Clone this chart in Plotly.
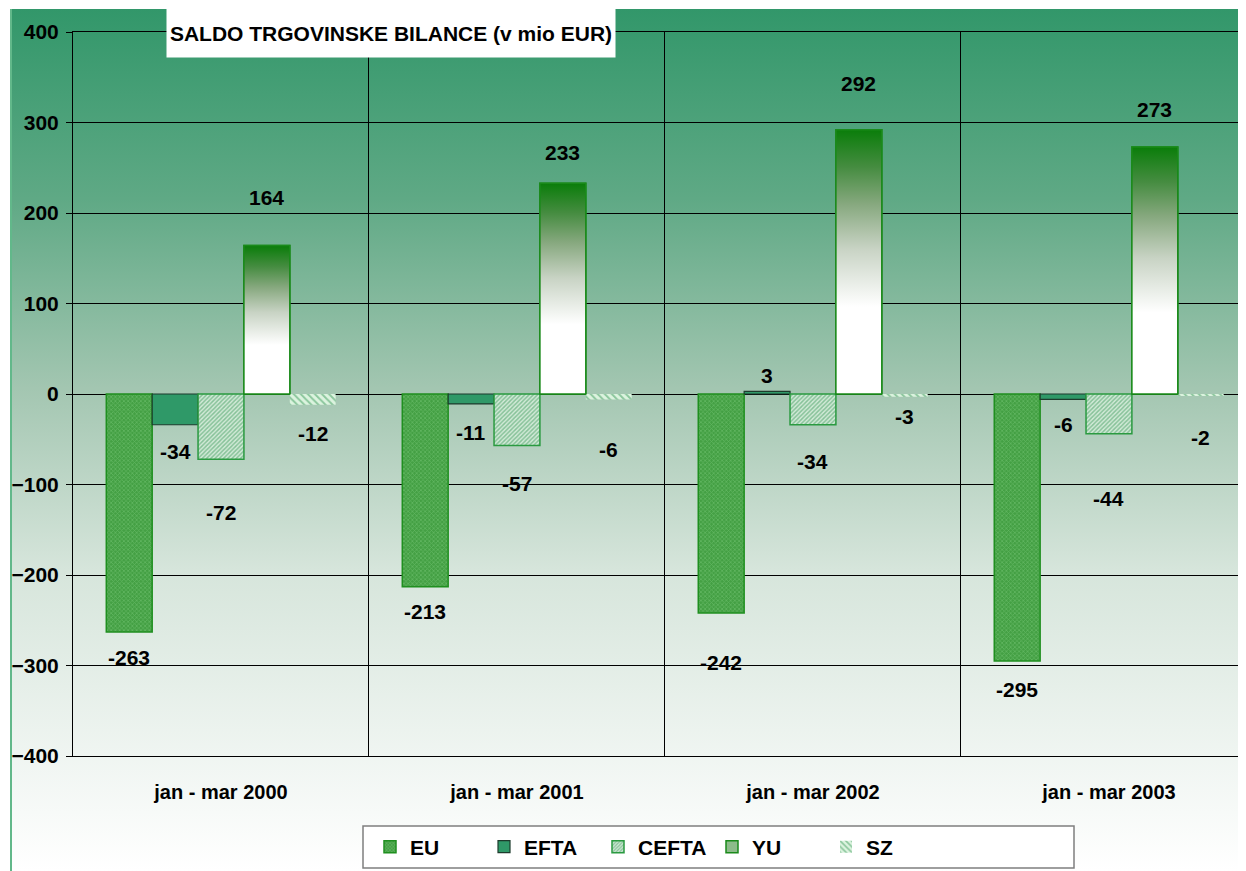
import base64
import plotly.graph_objects as go

PERIODS = ["jan - mar 2000", "jan - mar 2001", "jan - mar 2002", "jan - mar 2003"]
EU = [-263, -213, -242, -295]
EFTA = [-34, -11, 3, -6]
CEFTA = [-72, -57, -34, -44]
YU = [164, 233, 292, 273]
SZ = [-12, -6, -3, -2]
Y_TICKS = [-400, -300, -200, -100, 0, 100, 200, 300, 400]

# pixel offsets of the value labels (as placed in the original sheet)
LABEL_SHIFT = {
    "EU": [-25, -25, -49, -29],
    "EFTA": [-27, -29, 16, -25],
    "CEFTA": [-53, -38, -37, -65],
    "YU": [48, 31, 46, 37],
    "SZ": [-29, -50, -20, -42],
}

FONT = "Liberation Sans, Arial, sans-serif"
BAR_W = 0.155
YU_GRAD = [[0, "#ffffff"], [0.33, "#ffffff"], [0.55, "#c8d3c4"],
           [0.72, "#86a87e"], [0.86, "#458c40"], [1, "#0a7d0a"]]

STYLES = {
    "EU": dict(color="#4aa64a", line=dict(color="#1f8f1f", width=1.5),
               pattern=dict(shape="x", size=3, solidity=0.45,
                            fgcolor="#7ccb7c", bgcolor="#44a044")),
    "EFTA": dict(color="#2f9968", line=dict(color="#1d3b2c", width=1.2)),
    "CEFTA": dict(color="#cfe8d4", line=dict(color="#2a9a40", width=1.5),
                  pattern=dict(shape="/", size=3, solidity=0.5,
                               fgcolor="#3a985a", bgcolor="#d2ead7")),
    "YU": dict(color="#8dbb8a", line=dict(color="#1a8a1a", width=1.5)),
    "SZ": dict(color="#dcf3df", line=dict(color="#dcf3df", width=0),
               pattern=dict(shape="\\", size=5, solidity=0.4,
                            fgcolor="#3a9a5a", bgcolor="#dcf3df")),
}

series = [("EU", EU), ("EFTA", EFTA), ("CEFTA", CEFTA), ("YU", YU), ("SZ", SZ)]
X = list(range(len(PERIODS)))

fig = go.Figure()
for i, (name, vals) in enumerate(series):
    off = (i - 2.5) * BAR_W
    fig.add_trace(go.Bar(x=X, y=vals, width=BAR_W, offset=off, name=name,
                         marker=STYLES[name], hoverinfo="y+name"))

# gradient fill for YU bars (bars can't take a gradient, filled scatter can)
yu_off = (3 - 2.5) * BAR_W
for xc, v in zip(X, YU):
    xl, xr = xc + yu_off, xc + yu_off + BAR_W
    fig.add_trace(go.Scatter(
        x=[xl, xl, xr, xr, xl], y=[0, v, v, 0, 0], mode="lines", fill="toself",
        fillgradient=dict(type="vertical", colorscale=YU_GRAD),
        line=dict(color="#1a8a1a", width=1.5), showlegend=False, hoverinfo="skip"))

# value labels
for i, (name, vals) in enumerate(series):
    xc_off = (i - 2.5) * BAR_W + BAR_W / 2
    for xc, v, sh in zip(X, vals, LABEL_SHIFT[name]):
        fig.add_annotation(x=xc + xc_off, y=v, xref="x", yref="y", text=str(v),
                           showarrow=False, yshift=sh,
                           font=dict(family=FONT, size=21, color="black", weight="bold"))

# chart-area gradient background
svg = ('<svg xmlns="http://www.w3.org/2000/svg" width="100" height="100" '
       'preserveAspectRatio="none"><defs><linearGradient id="g" x1="0" y1="0" x2="0" y2="1">'
       '<stop offset="0" stop-color="#32976a"/><stop offset="0.22" stop-color="#5fa985"/>'
       '<stop offset="0.44" stop-color="#a3c6b1"/><stop offset="0.65" stop-color="#d6e5db"/>'
       '<stop offset="1" stop-color="#ffffff"/></linearGradient></defs>'
       '<rect width="100" height="100" fill="url(#g)"/></svg>')
bg_src = "data:image/svg+xml;base64," + base64.b64encode(svg.encode()).decode()

# the page body adds an 8px margin, so the figure is sized to what is left
PAGE = 8
W, H = 1246 - PAGE, 871 - PAGE
L, R, T, B = 73 - PAGE, 0, 32 - PAGE, 115
pw, ph = W - L - R, H - T - B

def px(xs):
    # screen x (px) -> paper fraction
    return (xs - PAGE - L) / pw

def py(ys):
    # screen y (px) -> paper fraction
    return (H - B - (ys - PAGE)) / ph

fig.add_layout_image(source=bg_src, xref="paper", yref="paper", x=px(11), y=py(9),
                     sizex=(1246 - 11) / pw, sizey=(871 - 9) / ph, xanchor="left",
                     yanchor="top", sizing="stretch", layer="below")
fig.add_shape(type="line", xref="paper", yref="paper", x0=px(11), x1=px(11),
              y0=py(871), y1=py(9), line=dict(color="#62b88a", width=2), layer="below")
# legend frame
fig.add_shape(type="rect", xref="paper", yref="paper", x0=px(363), x1=px(1074),
              y0=py(868), y1=py(826), fillcolor="white",
              line=dict(color="#7f7f7f", width=1.5), layer="below")

fig.add_annotation(xref="paper", yref="paper", x=px(391), y=py(33),
                   text="SALDO TRGOVINSKE BILANCE (v mio EUR)", showarrow=False,
                   bgcolor="white", width=446, height=46, xanchor="center", yanchor="middle",
                   font=dict(family=FONT, size=21, color="black", weight="bold"))

fig.update_layout(
    width=W, height=H,
    margin=dict(l=L, r=R, t=T, b=B),
    paper_bgcolor="rgba(0,0,0,0)",
    plot_bgcolor="rgba(0,0,0,0)",
    barmode="overlay",
    font=dict(family=FONT, size=21, color="black", weight="bold"),
    showlegend=True,
    legend=dict(orientation="h", x=px(370), y=py(847), xanchor="left", yanchor="middle",
                bgcolor="rgba(0,0,0,0)", borderwidth=0, entrywidth=69,
                entrywidthmode="pixels", itemwidth=30, traceorder="normal",
                font=dict(family=FONT, size=21, color="black", weight="bold")),
    xaxis=dict(range=[-0.5, 3.463], tickvals=X, ticktext=PERIODS, showgrid=False,
               zeroline=False, ticks="", ticklabelstandoff=18, showline=True,
               linecolor="black", linewidth=1, mirror=True,
               tickfont=dict(family=FONT, size=20, color="black", weight="bold"),
               minor=dict(tick0=0.5, dtick=1, showgrid=True, gridcolor="black",
                          gridwidth=1, ticks="")),
    yaxis=dict(range=[-400, 400], tickvals=Y_TICKS, showgrid=True, gridcolor="black",
               gridwidth=1, zeroline=True, zerolinecolor="black", zerolinewidth=1,
               ticks="outside", ticklen=6, tickcolor="black", showline=True,
               linecolor="black", linewidth=1, ticklabelstandoff=3,
               tickfont=dict(family=FONT, size=21, color="black", weight="bold")),
)

fig.write_html("out.html")
